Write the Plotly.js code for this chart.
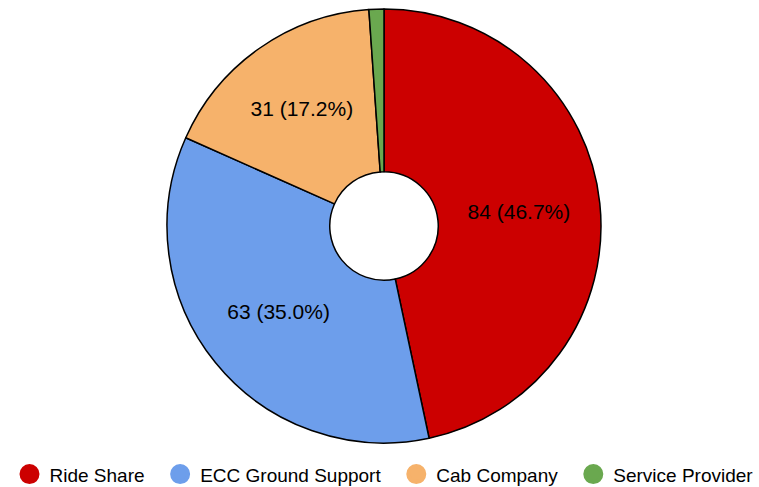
<!DOCTYPE html>
<html>
<head>
<meta charset="utf-8">
<script src="https://cdn.plot.ly/plotly-3.0.1.min.js"></script>
<style>html,body{margin:0;padding:0;background:#fff;}#chart{width:759px;height:487px;}</style>
</head>
<body>
<div id="chart"></div>
<script>
const categories = ["Ride Share", "ECC Ground Support", "Cab Company", "Service Provider"];
const values = [84, 63, 31, 2];
const colors = ["#CC0000", "#6D9EEB", "#F6B26B", "#6AA84F"];
const showLabel = [true, true, true, false];

const FONT = "Liberation Sans, Arial, sans-serif";

const pie = {
  type: "pie",
  labels: categories,
  values: values,
  sort: false,
  direction: "clockwise",
  rotation: 0,
  hole: 0.25,
  marker: {colors: colors, line: {color: "#000000", width: 1.5}},
  texttemplate: showLabel.map(s => s ? "%{value} (%{percent:.1%})" : ""),
  textposition: "inside",
  insidetextorientation: "horizontal",
  textfont: {family: FONT, size: 21, color: "#000000"},
  showlegend: false,
  hoverinfo: "label+value+percent"
};

const legendTraces = categories.map((c, i) => ({
  type: "scatter",
  mode: "markers",
  x: [null], y: [null],
  name: i < categories.length - 1 ? c + "\u00a0\u00a0" : c,
  marker: {color: colors[i], size: 16, symbol: "circle", line: {color: colors[i], width: 4}},
  showlegend: true,
  hoverinfo: "skip"
}));

const layout = {
  width: 759, height: 487,
  margin: {l: 9, r: 0, t: 9, b: 44, autoexpand: false},
  paper_bgcolor: "#ffffff",
  plot_bgcolor: "#ffffff",
  xaxis: {visible: false},
  yaxis: {visible: false},
  showlegend: true,
  legend: {
    orientation: "h",
    x: 0.5, xanchor: "center",
    y: -0.072, yanchor: "middle",
    font: {family: FONT, size: 19, color: "#000000"},
    bgcolor: "rgba(0,0,0,0)"
  }
};

Plotly.newPlot("chart", [pie, ...legendTraces], layout, {displayModeBar: false, staticPlot: true});
</script>
</body>
</html>
